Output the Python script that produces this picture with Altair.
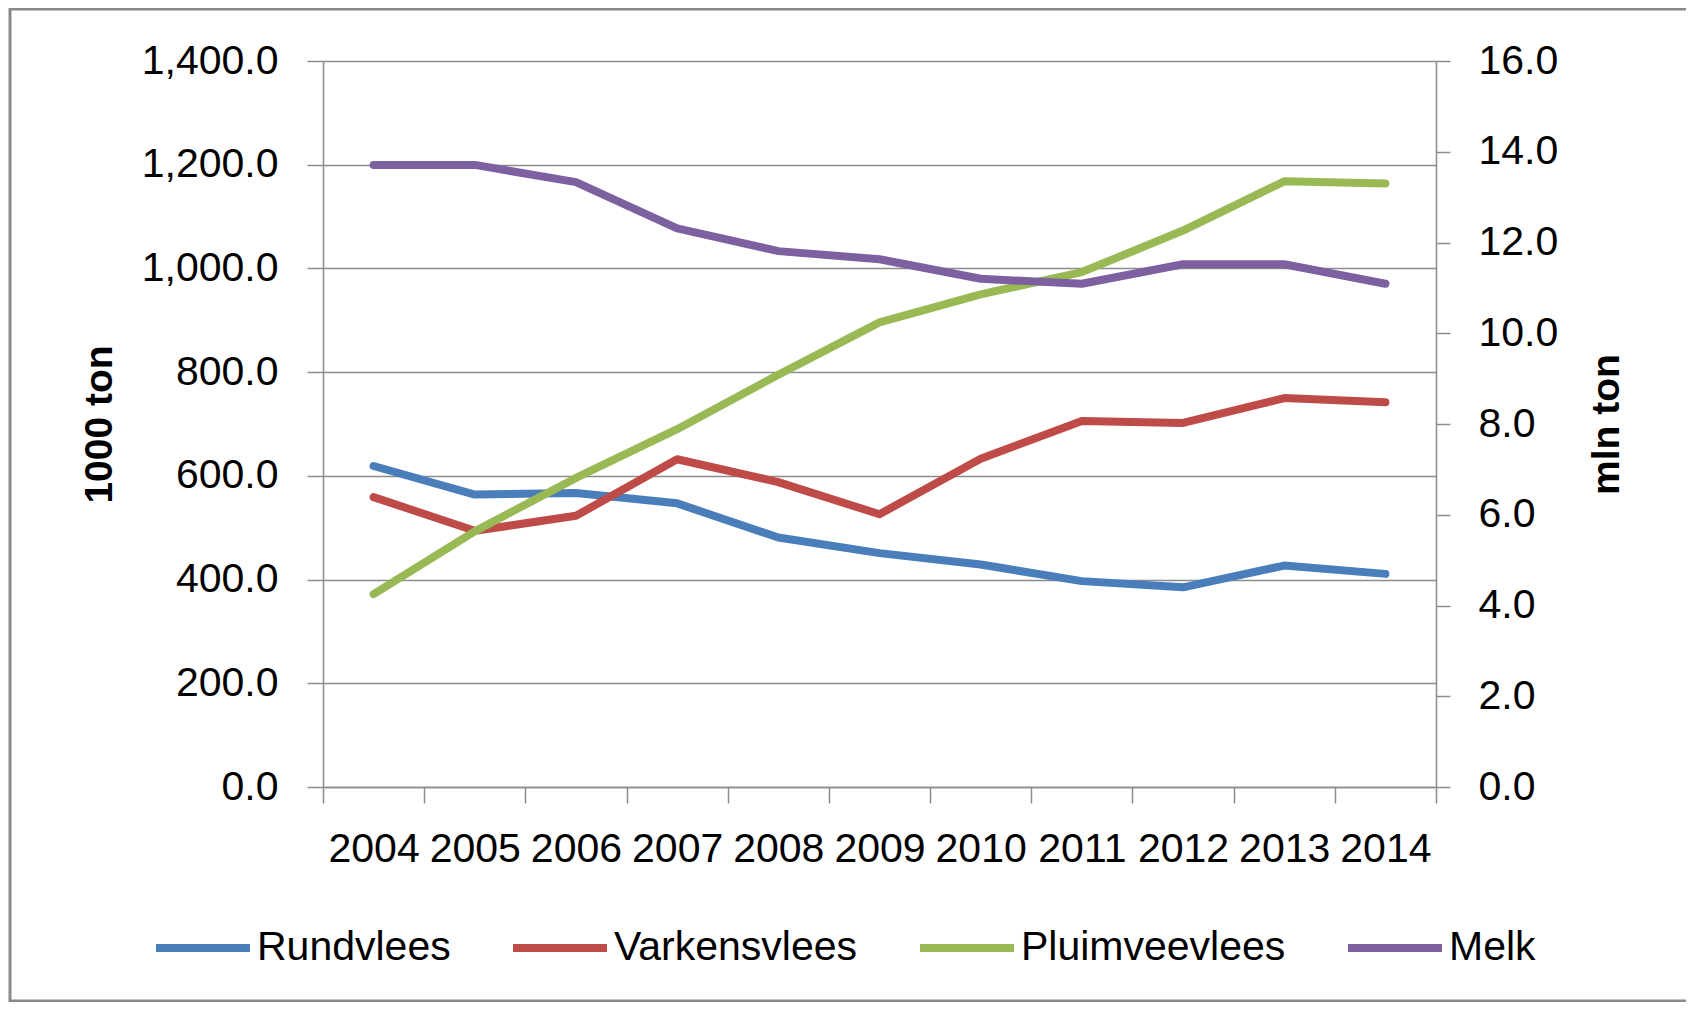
import altair as alt
import pandas as pd

years = ["2004", "2005", "2006", "2007", "2008", "2009", "2010", "2011", "2012", "2013", "2014"]
series_names = ["Rundvlees", "Varkensvlees", "Pluimveevlees", "Melk"]
colors = ["#4A7EBB", "#BE4B48", "#98B954", "#7D60A0"]

# left axis (1000 ton)
rundvlees = [619, 564, 567, 547, 481, 451, 429, 397, 385, 427, 411]
varkensvlees = [559, 494, 523, 632, 588, 526, 633, 706, 702, 750, 742]
pluimveevlees = [372, 493, 596, 690, 795, 896, 950, 993, 1073, 1168, 1164]
# right axis (mln ton)
melk = [13.71, 13.71, 13.33, 12.31, 11.81, 11.63, 11.20, 11.09, 11.52, 11.52, 11.09]

left_ticks = [0, 200, 400, 600, 800, 1000, 1200, 1400]
right_ticks = [0, 2, 4, 6, 8, 10, 12, 14, 16]

FONT = "Liberation Sans"
GRID = "#8c8c8c"
W, H = 1113, 726

rows = []
for name, vals in [("Rundvlees", rundvlees), ("Varkensvlees", varkensvlees), ("Pluimveevlees", pluimveevlees)]:
    for yr, v in zip(years, vals):
        rows.append({"year": yr, "series": name, "value": v})
left_df = pd.DataFrame(rows)
melk_df = pd.DataFrame({"year": years, "series": ["Melk"] * len(years), "value": melk})

x_axis = alt.Axis(
    title=None, labelAngle=0, tickBand="extent", tickSize=16, tickWidth=1.5, tickColor=GRID,
    domainColor=GRID, domainWidth=1.5, labelPadding=26, labelFontSize=41, labelFont=FONT,
    labelColor="#000000", labelOverlap=False, grid=False,
)
x_enc = alt.X(
    "year:N", sort=years, bandPosition=0.5,
    scale=alt.Scale(type="band", paddingInner=0, paddingOuter=0, domain=years),
    axis=x_axis,
)
color_enc = alt.Color(
    "series:N",
    scale=alt.Scale(domain=series_names, range=colors),
    title=None,
    legend=alt.Legend(
        orient="none", legendX=-171, legendY=836, direction="horizontal", columns=4,
        symbolType="stroke", symbolSize=8836, symbolStrokeWidth=8, labelFontSize=41,
        labelFont=FONT, labelColor="#000000", labelOffset=3, columnPadding=46, padding=0,
        labelLimit=400,
    ),
)

left_axis = alt.Axis(
    orient="left", values=left_ticks, format=",.1f", tickSize=16, tickWidth=1.5, tickColor=GRID,
    domainColor=GRID, domainWidth=1.5, grid=True, gridColor=GRID, gridWidth=1.5,
    labelPadding=29, labelFontSize=41, labelFont=FONT, labelColor="#000000",
    title="1000 ton", titleFont=FONT, titleFontSize=39, titleFontWeight="bold", titleColor="#000000",
    titleAngle=270, titleAlign="center", titleBaseline="middle", titleX=-224, titleY=H / 2,
)
right_axis = alt.Axis(
    orient="right", values=right_ticks, format=".1f", tickSize=14, tickWidth=1.5, tickColor=GRID,
    domainColor=GRID, domainWidth=1.5, grid=False,
    labelPadding=28, labelFontSize=41, labelFont=FONT, labelColor="#000000",
    title="mln ton", titleFont=FONT, titleFontSize=39, titleFontWeight="bold", titleColor="#000000",
    titleAngle=270, titleAlign="center", titleBaseline="middle", titleX=170, titleY=H / 2,
)

line_style = dict(strokeWidth=8, strokeCap="round", strokeJoin="round")

left_layers = []
for name in ["Rundvlees", "Varkensvlees", "Pluimveevlees"]:
    left_layers.append(
        alt.Chart(left_df).transform_filter(alt.datum.series == name).mark_line(**line_style).encode(
            x=x_enc,
            y=alt.Y("value:Q", scale=alt.Scale(domain=[0, 1400], nice=False), axis=left_axis),
            color=color_enc,
        )
    )
left = alt.layer(*left_layers)

right = alt.Chart(melk_df).mark_line(**line_style).encode(
    x=x_enc,
    y=alt.Y("value:Q", scale=alt.Scale(domain=[0, 16], nice=False), axis=right_axis),
    color=color_enc,
)

border = alt.Chart(alt.Data(values=[{"a": 1}])).mark_rect(
    filled=False, stroke="#8a8a8a", strokeWidth=3
).encode(
    x=alt.value(-313), x2=alt.value(1365), y=alt.value(-52), y2=alt.value(940)
)

chart = alt.layer(border, left, right).resolve_scale(y="independent").properties(
    width=W, height=H,
    autosize=alt.AutoSizeParams(type="none"),
    padding={"left": 315, "top": 53, "right": 250, "bottom": 215},
    background="#ffffff",
).configure_view(stroke="transparent")

chart.save("out.html", embed_options={"renderer": "svg", "actions": False})
